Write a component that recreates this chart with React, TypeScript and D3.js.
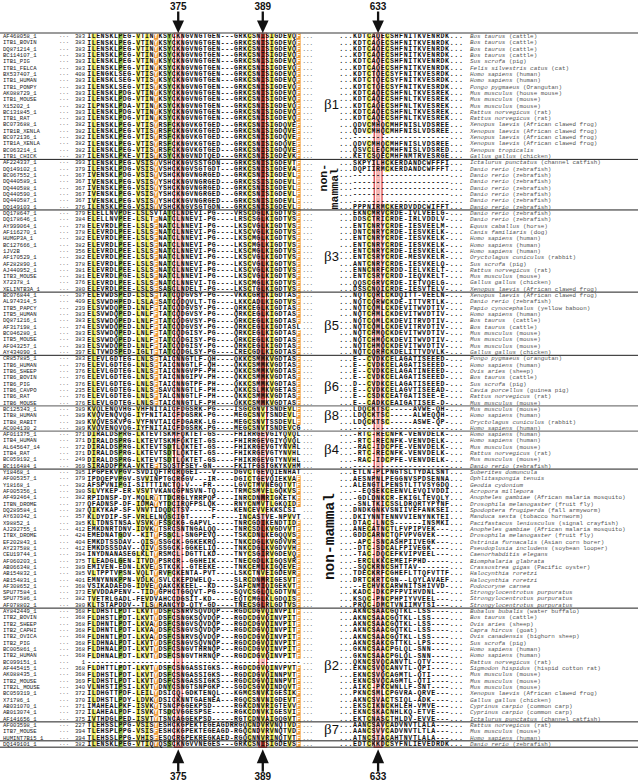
import React from 'react';
import * as d3 from 'd3';

const W = 638;
const H = 781;

const names = [
  'AF468058_1','ITB1_BOVIN','DQ871214_1','BC114107_1','ITB1_PIG','ITB1_FELCA','BX537407_1','ITB1_HUMAN','ITB1_PONPY','AK088729_1','ITB1_MOUSE','X15202_1','BC131845_1','ITB1_RAT','BC073688_1','ITB1B_XENLA','BC072136_1','ITB1A_XENLA','BC063214_1','ITB1_CHICK',
  'AF224337_1','DQ149102_1','BC067552_1','DQ440589_1','DQ440588_1','DQ440590_1','DQ440587_1','DQ149103_1',
  'DQ178647_1','DQ178646_1','AY999064_1','AF116270_1','HUMGP3A_1','BC127666_1','1JV2B','AF170529_1','AF282890_1','AJ440952_1','ITB3_MOUSE','X72378_1','XELINTB3A_1',
  'BC076844_1','AL974314_5','ITB5_PAPCY','ITB5_HUMAN','DQ871216_1','AF317198_1','BC046280_1','ITB5_MOUSE','AF043257_1','AY434090_1',
  'CR857885_1','ITB6_HUMAN','ITB6_SHEEP','ITB6_BOVIN','ITB6_PIG','ITB6_CAVPO','ITB6_RAT','ITB6_MOUSE',
  'BC125343_1','ITB8_HUMAN','ITB8_RABIT','AC004130_2',
  'AF011375_1','ITB4_HUMAN','AL645647_14','ITB4_RAT','BC059192_1','BC116484_1',
  'Y18468_1','AF005357_1','Y18168_1','AF005356_1','AF492464_1','ITBN_DROME','DQ289584_1','AY630342_1','X98852_1','AJ292755_1','ITBX_DROME','EF202843_1','AY237588_1','CEU19744_1','AF060203_1','AB066348_1','AB154832_1','AB154831_1','AF308652_1','SPU77584_1','SPU77586_1','AF078802_1',
  'AY842449_1','ITB2_BOVIN','ITB2_SHEEP','ITB2_CAPHI','ITB2_OVICA','ITB2_PIG','BC005861_1','ITB2_HUMAN','BC099151_1','AF445415_1','AK088435_1','ITB2_MOUSE','ITB2L_MOUSE','BC059319_1','X71786_1','AB031070_1','AB013074_1','AF141656_1',
  'AF003598_1','ITB7_MOUSE','HUMINT7B15_1',
  'DQ149101_1',
];

const startNums = [
  383,383,383,383,383,383,408,383,383,383,383,382,383,383,382,382,382,382,382,387,
  393,379,367,367,367,367,367,376,
  379,384,378,378,382,382,356,382,378,381,381,376,380,
  387,409,239,383,383,374,383,383,383,397,
  383,376,376,376,376,235,376,376,
  389,389,389,389,
  371,371,372,371,249,369,
  385,379,382,380,382,377,387,357,385,412,424,404,412,394,375,389,385,401,368,373,382,380,
  368,368,368,368,368,368,368,368,1,368,368,369,340,372,370,371,372,375,
  227,394,394,
  382,
];

const leftSeqs = [
  'ILENSKLPEG-VTINYKSYCKNGVNGTGEN---GRKCSNISIGDEVQF',
  'ILENSKLPEG-VTINYKSYCKNGVNGTGEN---GRKCSNISIGDEVQF',
  'ILENSKLPEG-VTINYKSYCKNGVNGTGEN---GRKCSNISIGDEVQF',
  'ILENSKLPEG-VTINYKSYCKNGVNGTGEN---GRKCSNISIGDEVQF',
  'ILENSKLPEG-VTINYKSYCKNGVNGTGEN---GRKCSNISIGDEVQF',
  'ILENSKLPEG-VTINYKSYCKNGVNGTGEN---GRKCSNISIGDEVQF',
  'ILENGKLSEG-VTISYKSYCKNGVNGTGEN---GRKCSNISIGDEVQF',
  'ILENSKLSEG-VTISYKSYCKNGVNGTGEN---GRKCSNISIGDEVQF',
  'ILENSKLSEG-VTISYKSYCKNGVNGTGEN---GRKCSNISIGDEVQF',
  'ILENSKLPDG-VTINYKSYCKNGVNGTGEN---GRKCSNISIGDEVQF',
  'ILENSKLPDG-VTINYKSYCKNGVNGTGEN---GRKCSNISIGDEVQF',
  'ILPNSKLPDA-VTINYKSYCKNGVNGTGEN---GRKCSNISIGDEVQF',
  'ILENSKLPDG-VTINYKSYCKNGVNGTGEN---GRKCSNISIGDEVQF',
  'ILENSKLPDG-VTINYKSYCKNGVNGTGEN---GRKCSNISIGDEVQF',
  'ILENSKLPEG-VTISYRSFCKNGVKGTGED---GRKCSNISIGDQVEF',
  'ILENSKLPEG-VTISYRSFCKNGVKGTGED---GRKCSNISIGDQVEF',
  'ILENSKLPEG-VTISYRSFCKNGVKGTGED---GRKCSNISIGDQVEF',
  'ILENSKLPEG-VTISYRSFCKNGVKGTGED---GRKCSNISIGDQVEF',
  'ILENSKLPEG-VTISYRSFCKNGVKGTGED---GRKCSNISIGDQVEF',
  'ILENSKLPKE-VTISYKSYCKNGVNDTQED---GRKCSNISIGDEVKF',
  'ILENSKLPEG-VSISYVSHCKNGVSSTGDN---GRKCSNISIGDEVTF',
  'ILENSKLPDG-VSISYVSHCKNGVSGTGDT---GRKCSNISIGDEVAF',
  'IVENSKLPDG-VSISYVSHCKNGVNGRGED---GRKCSNISIGDEVLF',
  'IVENSKLPEG-VSISYYSHCKNGVNGRGED---GRKCSSISIGDEVLF',
  'IVENSKLPEG-VSISYYSHCKNGVNGRGED---GRKCSNISIGDEVLF',
  'IVENSKLPEG-VSISYYSHCKNGVNGRGED---GRKCSNISIGDEVLF',
  'IVENSKLPEG-VSISYYSHCKNGVNGRGED---GRKCSNISIGDEVLF',
  'ILENSKLPEG-VSISYVSHCKNGVSGTGDN---GRKCSNISIGDEVLF',
  'ELELLNVPDE-LSLSVTATCLNDEVI-PG----VRSCDGLKIGDTVSF',
  'ELELLNVPEE-LSLTFNATCLNNEVI-PG----LRSCSGLKIGDTVSF',
  'ELEVRDLPEE-LSLSFNATCLNNEVI-PG----LKSCVGLKIGDTVSF',
  'ELEVRDLPEE-LSLSFNATCLNNEVI-PG----LKSCVGLKIGDTVSF',
  'ELEVRDLPEE-LSLSFNATCLNNEVI-PG----LKSCMGLKIGDTVSF',
  'ELEVRDLPEE-LSLSFNATCLNNEVI-PG----LKSCMGLKIGDTVSF',
  'ELEVRDLPEE-LSLSFNATCLNNEVI-PG----LKSCMGLKIGDTVSF',
  'ELEVRDLPEE-LSLSFNATCLNNEVI-PG----LKSCVGLKIGDTVSF',
  'ELEVRDLPEE-LSLSFNATCLNNEVI-PG----LKSCVGLKIGDTVSF',
  'ELEVRDLPEE-LSLSFNATCLNNEVI-PG----LKSCVGLKIGDTVSF',
  'ELEVRDLPGE-LSLSFNATCLNNEVI-PG----LKSCVGLKIGDTVSF',
  'ELEVRDLPEE-LSLSFNATCLNNEVI-TG----LKSCMGLKIGDTVSF',
  'ELEVRDLPEE-LSLSFSASCLNDELT-PG----LKSCTGLKIGDTVSF',
  'ELEVWDSPED-LSLSFTATCQDGVSY-PG----VKKCGRLKIGDTASF',
  'ELSVWDHPED-LSLAFSATCQDQVLT-TG----LKKCADLKIGDTVSF',
  'ELSVWDQPED-LNLFFTATCQDGVSY-PG----QRKCEGLKIGDTASF',
  'ELSVWDQPED-LNLFFTATCQDGVSY-PG----QRKCEGLKIGDTASF',
  'ELSVWDQPED-LNLFFTATCQDGVSY-PG----QRKCEGLKIGDTASF',
  'ELSVWDQPED-LNLFFTATCQDGVSY-PG----QRKCEGLKIGDTASL',
  'ELSVWDQPED-LNLFFTATCQDGISY-PG----QRKCEGLKIGDTASF',
  'ELSVWDQPED-LNLFFTATCQDGISY-PG----QRKCEGLKIGDTASF',
  'ELSVWDQPED-LNLFFTATCQDGISY-PG----QRKCEGLKIGDTASF',
  'ELTVWDSPED-IGLTFTATCQDGLSY-PG----LRECGDLKIGDTASF',
  'ELEVLGDTEG-LNLSFTAICNNGTLF-QH----QKKCSMMKVGDTASF',
  'ELEVLGDTEG-LNLSFTAICNNGTLF-QH----QKKCSMMKVGDTASF',
  'ELEVLGDTEG-LNLSFTAICNNGVPF-PH----QKKCSMMKVGDTASF',
  'ELEVLGDTEG-LNLSFTAICNNGIPV-PH----QKKCSMMKVGDTASF',
  'ELEVLGDTEG-LNLSFTAICNNGTPF-PH----QKKCSMMKVGDTASF',
  'ELEVLGDTEG-LNLSFSAVCNNGTLF-PH----QKKCSLMKVGETASF',
  'ELEVLGDTEG-LNLSFTALCNNGTLF-PH----QKKCSMMKVGDTASF',
  'ELEVLGDTEG-LNLSFTAICNNGTLF-PH----QKKCSMMKVGDTASF',
  'KVQLENQVHG-VHFNITAICFDGSRK-PG----ISGCGNVTSNDEVLF',
  'KVQVENQVQG-IYFNITAICFDGSRK-PG----MEGCSNVTSNDEVLF',
  'KVQVESKVPG-VYFNVTAICFDGARK-LG----MEGCSNVTSSDEVLF',
  'KVQVENQVQG-IYFNITAICFDGSRK-PG----MEGCSNVTSNDEVCG',
  'DIRALDSPRG-LKTEVTSKMFQKTET-GS----FHIRRGEVGIYQVQL',
  'DIRALDSPRG-LKTEVTSKMFQKTET-GS----FHIRRGEVGIYQVQL',
  'DIRALDSPRG-LKTEVTSDTLQKTET-GS----FHIKRGEVGTYNVHL',
  'DIRALDSPRG-LKTEVTSDTLQKTET-GS----FHIKRGEVGTYNVHL',
  'DIRALDSPRG-LKTEVTSDTLQKTET-GS----FHIKRGEVGTYNVHL',
  'SIRADDPPKA-VKTEFTSQSTFSEY-GN-----FKITFGSTGKYKVHM',
  'IPGPEKVPGV-SVDIQFTRCRQGEI---V----DGVCTGEVQIENHAT',
  'IPDQEPVPGV-SVVINPTGCRGGV---IR----DGICTGEVQIEKVAF',
  'AFSPVNIPGI-SITTTINCTQ-V---FR-----LGVCTMVNEGQTVTF',
  'SLVYKEP-ER-VSVTVKANCGPNSVN-TQ----TRMCSMVELGQKVSF',
  'RPIDNSP-DY-MQLRYTTDCRGLYRRPQP----INRCDNMRIGKETKF',
  'QFADNSP-DF-IDMAYYTDCIRQFPSLQK----RNYCNMVTLGKQIDF',
  'QIKYKAP-SF-VNVTIDQDCTSV-----F----KENCEVVEKKSLSI',
  'KLDYDIP-SF-VRLELNQSCIGT-----F-----INCASTVE-NPVVT',
  'KLTDNSTNSA-VSVKYFSSCKG-GAPVL-----TNRCGDIKENDTIDF',
  'EMKDNRTDNV-IDVKYTSRCSNTNGALQQ----TNRCSDLKVGDVVTF',
  'EMEDNATGDV--KITYFSSCL-SNGPEVQ----TSKCDNLKEGQQVSF',
  'EMKDTSSDAV--QISYSSGCK-GGKEKRQ----TNKCDGLKVGDVVRF',
  'EMKDSSSDAV--QIVYSSGCK-GGKELIQ----TNKCDGLKVGDVVHF',
  'INYDNANASEGLKLTYRSMCL-DGTTLKD----TNYCSGIRVGDEVQF',
  'TLEADGLGEN-ITVDYPSRCR--GGHEIK----TNECGDLKIGQSVRF',
  'EMIVEN-EDN-LKVEYSTKCK--GTEEKE----TNKCEMLKIGQEVEF',
  'VLTPPTVPSN-VQLTYRVFCKENTA-PVT----LSKCTNVEIGDEVRF',
  'EMNYNNKPPN-VDLKYSVLCKEPDWELQ-----SLRCDNMRIGESVTF',
  'VSIKADAEDG-IDVEYQAKCKKEEL--KD----SAFCNMIQIGEKVTF',
  'EVVDDAPENV--TIDYGPHCTGGQVT-PG----SQVCSGLQLGDTVNF',
  'TVETRLGADL-FEVDVAHCCDGSIT-KD-----EQTCMGLKLGDQISF',
  'KLTSTAPDDV--TLSYRANCYD-QTY-GD----TNECSGLRLGDTVSF',
  'FLDHSTLPDT-LKVTYDSFCSNRVSQVDQP---RGDCDGVQINVPITF',
  'FLDHSTLPDT-LKVTYDSFCSNGKSQVDQP---RGDCDGVQINVPITF',
  'FLDHNTLPDT-LKVAYDSFCSNGVSQVDQP---RGDCDGVQINVPITF',
  'FLDHNTLPDT-LKVAYDSFCSNGVSQVDQP---RGDCDGVQINVPITF',
  'FLDHNTLPDT-LKVAYDSFCSNRVSQVDQP---RGDCDGVQINVPITF',
  'FLDHNALPDT-LKVTYDSFCSNGVSQVNQP---RGDCDGVQINVPITF',
  'FLDHNALPDT-LKVTYDSFCSNGVTHRNQP---RGDCDGVQINVPITF',
  'FLDHNALPDT-LKVTYDSFCSNGVTHRNQP---RGDCDGVQINVPITF',
  '------------------------------------------------',
  'FLDHTTLPDT-LKVTYDSFCSNGASSIGKS---RGDCDGVQINVPVTF',
  'FLDHSTLPDT-LKVTYDSFCSNGASSIGKS---RGDCDGVQINNPVTF',
  'FLDHSTLPDT-LKVTYDSFCSNGASSIGKS---RGDCDGVQINNPVTF',
  'VLNHSTIPSI-LKVTYDNYCSNGTSNPGKP---SGDCSGVQINDQVTF',
  'ILDHGTTPDF-LEILYDSICQ-GDKTENQL---KGMCSNVKIGESIKF',
  'ILDHSTLPDY-LDVKYDSICKNNTGAENEA---RGQCSNVNIGDEVTF',
  'IMAHEALPKF-ISVKYTSNCPGGEKPSD-----RGKCDNVRIGTEVVF',
  'ILAHEALPDF-ISVKYTSDCVGGESPSE-----RGKCDNVKIGESVIF',
  'IVTHDGLPED-ISVTYTSNCAGGEKPSD-----RGTCDNVAIGQGVTF',
  'TLEHSSLPPG-VSISYESHCKGPEKTEGEAGDRRGQCNDVRVNQTVDF',
  'TLEHSPLPPG-VSISFESHCKGPEKTEGEAGD-RGQCNDVRVNQTVDF',
  'TLEHSSLPPG-VHISFESQCRGPEKREGKAED-RGQCNNVRINQTVTF',
  'ILENSKLPEG-VTIQYQSSCKNGVVNEGES---GRKCSNISIGDEVSF',
];

const rightSeqs = [
  'KDTCAQECSHFNITKVENRDK','KDTCAQECSHFNITKVENRDK','KDTCAQECSHFNITKVENRDK','KDTCAQECSHFNITKVENRDK','KDTCAQECSHFNITKVENRDK','KDTCAQECSHFNITKVENRDK',
  'KDTCTQECSYFNITKVESRDK','KDTCTQECSYFNITKVESRDK','KDTCTQECSYFNITKVESRDK',
  'KDTCAQECSHFNLTKVESREK','KDTCAQECSHFNLTKVESREK','KDTCAQECSHFNLTKVESREK','KDTCAQECSHFNLTKVESREK','KDTCAQECSHFNLTKVESREK',
  'QDVCMHQCMHFNISLVDSREE','QDVCMHQCMHFNISLVDSREE','---------------------','QDVCMHQCMHFNISLVDSREE','QSVCLEQCMHFNISLVDSRED','KETCSQECMHFNMTRVESRGE',
  'SKPYILHCKERDANDCWFFFI','DQPIIRMCKERDANDCWFFFT','---------------------','---------------------','---------------------','---------------------','---------------------','PPPNIRMCKERDVDDCWIFFT',
  'EKNCMRVCRDE-IVLVEELG-','DDSCTRICRDE-IRLVDDLV-','ENTCNRYCRDE-IESVEELM-','DNTCNRYCRDE-IESVKELK-','ENTCNRYCRDE-IESVKELK-','ENTCNRYCRDE-IESVKELK-','ENTCNRYCRDE-IESVKELK-','ENTCSRYCRDE-MESVKELR-','ANTCNRYCRDE-IESVKELQ-','ENNCNRFCRDD-IELVKELT-','ENTCSRYCRDD-IEQVKELT-','QQSCGRVCRDE-IETVQELG-','DSSCNQICRDE-IESVTELV-',
  'NQTCQRLCKDQITT-VEELN-','NQTCQRWCKDE-ITTVRTLK-','NQTCQMLCKDEVITWVDTIV-','NQTCHMLCKDEVITWVDTIV-','NQTCQMLCKDEVITRVDTIV-','NQTCQMLCKDEVITRVDTIV-','NQTCHMQCKDEVITWVDTIV-','NQTCHMQCKDEVITWVDTIV-','NQTCHMQCKDEVITWVDTIV-','NQTCQRHCKDELITTVDVLK-',
  'E--CVDKCELAGATISEEED-','E--CVDKCELAGATISEEED-','E--CVDKCELAGATINEEED-','E--CVDKCELAGATISEEED-','D--CVDKCELAGATISEEED-','E--CVDKCELAGVTISEEAD-','E--CSDKCEATGATISEE-E-','E--CADKCEAIGATISEE-D-',
  'LDQCKTSC-----AVWE-QH-','LDQCKTSC-----ALWEQQH-','LDQCKTSC-----ASWE-QP-','---------------------',
  '-RTC-RECNFK-VENVDELK-','-RTC-RECNFK-VENVDELK-','-RAC-IDCPFE-VENVDELK-','-RTC-RECNFK-VENVDELK-','-RAC-IDCPFE-VENVDELK-','---------------------',
  'ETLN-PLPNGTSLTYDALSNT','AESNPNLPEGGNVSPDSENNA','ALENGTLPENSTLTTVSYGDQ','--EQSEKCEENVLEVQIVDDI','-GDLDNKCR-EKIGLTEVQLY','-SNLTKICSSLDRQRTYPYNF','DNDKGNKVSNIIVEFANKSEI','DKIYNNTENNVVIENYNKTEI','DTAC-LNCS------INSMKI','ANECATNCTLFVPIPVEK---','GDDCARNCTQFVPVGVEK---','-APC-SNCASHPIIVEGK---','-DTC-SDCALFPIVEGK----','-TAC-DQCEFKVIPVEEL---','-ERCLKKCEMEIFPHD-----','-SQCKRNCSHTTAV-------','TDECKRFCGHEFLTTQFVTTF','DRTCKRTCGN--LQYLAVAEF','--ECHVKCARWNITSHIVVD-','KADC-DKCPFPVIHVDNL---','KSQC-PNCPHPIYVVEEL---','PRQC-DMCTVNIIMVTSI---',
  'AKNCSAACGQTKL-LSS----','AKNCSAACGQTKL-LSS----','AKNCSAACGQTKL-LSS----','AKNCSAACGQTKL-LSS----','AKNCSAACGQTKL-LSS----','AKNCSAKCGTTKL-LPS----','GKNCSAACPGLQL-SNN----','GKNCSAACPGLQL-SNN----','QKNCSVQCANVTL-QTV----','EKNCSVQCANVTL-QPI----','EKNCSVQCAGMTL-QTI----','EKNCSVQCAGMTL-QTI----','AIKC-PKCWNLLF-SNT----','PKNCSMLCPGVRA-QRVE---','AKNCSVACTSIQL-ADK----','EKSCIKNCKHLEH-VMVE---','EKNCSKACNHLKQ-ETVE---','EKTCNASCTHLDV-EVVE---',
  'AANCSAVCADVNVTLALA---','AANCSVVCADVNVTLTLA---','ATNCSTACAHTNVTLALA---',
  'EDTCKKDCSYFNLIEVEDRDK',
];

const species = [
  'Bos taurus (cattle)','Bos taurus (cattle)','Bos taurus (cattle)','Bos taurus (cattle)','Sus scrofa (pig)','Felis silvestris catus (cat)','Homo sapiens (human)','Homo sapiens (human)','Pongo pygmaeus (Orangutan)','Mus musculus (house mouse)','Mus musculus (mouse)','Mus musculus (mouse)','Rattus norvegicus (rat)','Rattus norvegicus (rat)','Xenopus laevis (African clawed frog)','Xenopus laevis (African clawed frog)','Xenopus laevis (African clawed frog)','Xenopus laevis (African clawed frog)','Xenopus tropicalis','Gallus gallus (chicken)',
  'Ictalurus punctatus (channel catfish)','Danio rerio (zebrafish)','Danio rerio (zebrafish)','Danio rerio (zebrafish)','Danio rerio (zebrafish)','Danio rerio (zebrafish)','Danio rerio (zebrafish)','Danio rerio (zebrafish)',
  'Danio rerio (zebrafish)','Danio rerio (zebrafish)','Equus caballus (horse)','Canis familiaris (dog)','Homo sapiens (human)','Homo sapiens (human)','Homo sapiens (human)','Oryctolagus cuniculus (rabbit)','Sus scrofa (pig)','Rattus norvegicus (rat)','Mus musculus (mouse)','Gallus gallus (chicken)','Xenopus laevis (African clawed frog)',
  'Xenopus laevis (African clawed frog)','Danio rerio (zebrafish)','Papio cynocephalus (yellow baboon)','Homo sapiens (human)','Bos taurus  (cattle)','Bos taurus (cattle)','Mus musculus (mouse)','Mus musculus (mouse)','Mus musculus (mouse)','Gallus gallus (chicken)',
  'Pongo pygmaeus (orangutan)','Homo sapiens (human)','Ovis aries (sheep)','Bos taurus (cattle)','Sus scrofa (pig)','Cavia porcellus (guinea pig)','Rattus norvegicus (rat)','Mus musculus (mouse)',
  'Mus musculus (mouse)','Homo sapiens (human)','Oryctolagus cuniculus (rabbit)','Homo sapiens (human)',
  'Homo sapiens (human)','Homo sapiens (human)','Mus musculus (mouse)','Rattus norvegicus (rat)','Mus musculus (mouse)','Danio rerio (zebrafish)',
  'Suberites domuncula','Ophlitaspongia tenuis','Geodia cydonium','Acropora millepora','Anopheles gambiae (African malaria mosquito)','Drosophila melanogaster (fruit fly)','Spodoptera frugiperda (fall armyworm)','Manduca sexta (tobacco hornworm)','Pacifastacus leniusculus (signal crayfish)','Anopheles gambiae (African malaria mosquito)','Drosophila melanogaster (fruit fly)','Ostrinia furnacalis (Asian corn borer)','Pseudoplusia includens (soybean looper)','Caenorhabditis elegans','Biomphalaria glabrata','Crassostrea gigas (Pacific oyster)','Halocynthia roretzi','Halocynthia roretzi','Podocoryne carnea','Strongylocentrotus purpuratus','Strongylocentrotus purpuratus','Strongylocentrotus purpuratus',
  'Bubalus bubalis (water buffalo)','Bos taurus (cattle)','Ovis aries (sheep)','Capra hircus (goat)','Ovis canadensis (bighorn sheep)','Sus scrofa (pig)','Homo sapiens (human)','Homo sapiens (human)','Rattus norvegicus (rat)','Sigmodon hispidus (hispid cotton rat)','Mus musculus (mouse)','Mus musculus (mouse)','Mus musculus (mouse)','Xenopus laevis (African clawed frog)','Gallus gallus (chicken)','Cyprinus carpio (common carp)','Cyprinus carpio (common carp)','Ictalurus punctatus (channel catfish)',
  'Rattus norvegicus (rat)','Mus musculus (mouse)','Homo sapiens (human)',
  'Danio rerio (zebrafish)',
];

const groupNames = ['β1', 'non-mammal', 'β3', 'β5', 'β6', 'β8', 'β4', 'non-mammal', 'β2', 'β7', ''];
const groupSizes = [20, 8, 13, 10, 8, 4, 6, 22, 18, 3, 1];
const siteLabels = ['375', '389', '633'];
const siteCols = [20, 39, 8];
const siteBlocks = ['L', 'L', 'R'];

// layout constants
const TOP = 33;
const ROWH = 6.32;
const LX0 = 87;
const LCW = 4.45;
const RX0 = 339;
const RCW = 4.6;
const MIDX = 302.5;
const MIDCW = 3.5;
const SEQ_FS = 6.6;
const labelDy = [13, 0, 10, 6, 10, 1.5, 4, 0, 5, 3, 0];
const grayAfter = new Set([4, 5]);

const YEL = '#efeb5a';
const GRN = '#8fbf4a';
const ORG = '#f19a3a';
const DRED = '#b5372c';
const PINK = '#f6b6b4';
const RED = '#d8262a';

function leftFill(col: number, ch: string): string | null {
  if (col === 20) return PINK;
  if (col === 39) {
    if ('ILMF'.includes(ch)) return DRED;
    if (ch === 'V') return YEL;
    return PINK;
  }
  if (ch === '-') return null;
  if (col === 1 && 'LIV'.includes(ch)) return YEL;
  if (col === 7 && 'PG'.includes(ch)) return GRN;
  if (col === 11 && 'VLI'.includes(ch)) return YEL;
  if (col === 13 && 'ILVM'.includes(ch)) return YEL;
  if (col === 15 && 'YFH'.includes(ch)) return ORG;
  if (col === 18 && 'YTSFD'.includes(ch)) return GRN;
  if (col === 36 && ch === 'C') return YEL;
  if (col === 41 && 'ILV'.includes(ch)) return YEL;
  if (col === 45 && 'VIL'.includes(ch)) return YEL;
  if (col === 47 && ch === 'F') return ORG;
  return null;
}

function rightFill(idx: number, ch: string): string | null {
  if (idx === 8) return PINK;
  if ((idx === 6 || idx === 10) && ch === 'C') return YEL;
  return null;
}

function splitSpecies(s: string): [string, string] {
  const m = s.match(/^(.*?)(\s*\(.*\))?$/);
  if (!m) return [s, ''];
  return [m[1], m[2] || ''];
}

type Seg = { fill: string; xs: number[]; s: string; fw: string; fs: number };

export default function App() {
  const N = names.length;
  const y = d3.scaleLinear().domain([0, N]).range([TOP, TOP + N * ROWH]);
  const xl = d3.scaleLinear().domain([0, 48]).range([LX0, LX0 + 48 * LCW]);
  const xr = d3.scaleLinear().domain([0, 27]).range([RX0, RX0 + 27 * RCW]);
  const bottom = y(N);

  const starts: number[] = [];
  let acc = 0;
  groupSizes.forEach((s) => { starts.push(acc); acc += s; });

  const cells: any[] = [];
  const texts: any[] = [];

  names.forEach((nm, i) => {
    const top = y(i);
    const base = top + 5.2;
    const ls = leftSeqs[i];
    const rs = '...' + rightSeqs[i] + '...';
    const segs: Seg[] = [];
    const push = (fill: string, x: number, ch: string, fw = 'bold', fs = SEQ_FS) => {
      const last = segs[segs.length - 1];
      if (last && last.fill === fill && last.fw === fw && last.fs === fs) { last.xs.push(x); last.s += ch; }
      else segs.push({ fill, xs: [x], s: ch, fw, fs });
    };
    for (let c = 0; c < ls.length; c++) {
      const ch = ls[c];
      const f = leftFill(c, ch);
      if (f) cells.push(<rect key={`l${i}-${c}`} x={xl(c)} y={top} width={LCW + 0.05} height={ROWH + 0.05} fill={f} />);
      push(f === ORG ? '#fff' : '#111', xl(c + 0.5), ch);
    }
    for (let k = 0; k < 3; k++) push('#333', MIDX + (k + 0.5) * MIDCW, '.', 'normal', 5.8);
    for (let c = 0; c < rs.length; c++) {
      const ch = rs[c];
      const f = rightFill(c, ch);
      if (f) cells.push(<rect key={`r${i}-${c}`} x={xr(c)} y={top} width={RCW + 0.05} height={ROWH + 0.05} fill={f} />);
      push('#111', xr(c + 0.5), ch);
    }
    texts.push(
      <text key={`s${i}`} y={base} textAnchor="middle" fontFamily="'Liberation Mono', monospace">
        {segs.map((sg, k) => (
          <tspan key={k} x={sg.xs.map((v) => v.toFixed(2)).join(' ')} fill={sg.fill}
            fontWeight={sg.fw} fontSize={sg.fs}>{sg.s}</tspan>
        ))}
      </text>
    );
    texts.push(
      <text key={`n${i}`} y={top + 5.0} fontFamily="'Liberation Mono', monospace" fontSize={5.6} fill="#222">
        <tspan x={3}>{nm}</tspan>
        <tspan x={59} fill="#555">···</tspan>
        <tspan x={85} textAnchor="end">{String(startNums[i])}</tspan>
      </text>
    );
    const [sp, common] = splitSpecies(species[i]);
    texts.push(
      <text key={`sp${i}`} x={470} y={top + 5.0} fontFamily="'Liberation Mono', monospace" fontSize={5.9} fill="#555" xmlSpace="preserve">
        <tspan fontStyle="italic">{sp}</tspan>
        <tspan>{common}</tspan>
      </text>
    );
  });

  const sepLines = starts.slice(1).map((s, gi) => (
    <line key={`sep${gi}`} x1={0} x2={W} y1={y(s)} y2={y(s)}
      stroke={grayAfter.has(gi) ? '#7a7a7a' : '#1e1e1e'} strokeWidth={grayAfter.has(gi) ? 1.3 : 1} />
  ));

  const siteX = siteCols.map((c, k) => (siteBlocks[k] === 'L' ? xl(c + 0.5) : xr(c + 0.5)));
  const siteLeft = siteCols.map((c, k) => (siteBlocks[k] === 'L' ? xl(c) : xr(c)));
  const siteW = siteBlocks.map((b) => (b === 'L' ? LCW : RCW));

  const groupLabels = groupNames.map((g, gi) => {
    if (!g) return null;
    const cy = (y(starts[gi]) + y(starts[gi] + groupSizes[gi])) / 2;
    if (g === 'non-mammal') {
      if (groupSizes[gi] < 12) {
        return (
          <g key={`gl${gi}`} fontFamily="'Liberation Mono', monospace" fontWeight="bold" fill="#111">
            <text transform={`translate(326.5,${cy - 7}) rotate(-90)`} textAnchor="middle" fontSize={11.5}>non-</text>
            <text transform={`translate(337.5,${cy + 4}) rotate(-90)`} textAnchor="middle" fontSize={11.5}>mammal</text>
          </g>
        );
      }
      return (
        <text key={`gl${gi}`} transform={`translate(334,${cy - 2}) rotate(-90)`} textAnchor="middle"
          fontFamily="'Liberation Mono', monospace" fontWeight="bold" fontSize={14.5} fill="#111">non-mammal</text>
      );
    }
    return (
      <text key={`gl${gi}`} x={324} y={cy + labelDy[gi]} fill="#111">
        <tspan fontFamily="'Liberation Serif', serif" fontSize={15}>{g[0]}</tspan>
        <tspan fontFamily="'Liberation Sans', sans-serif" fontSize={13}>{g.slice(1)}</tspan>
      </text>
    );
  });

  return (
    <svg width={W} height={H} viewBox={`0 0 ${W} ${H}`} style={{ position: 'absolute', left: 0, top: 0, background: '#fff' }}>
      <rect x={0} y={0} width={W} height={H} fill="#fff" />
      <g>{cells}</g>
      {siteX.map((sx, k) => (
        <rect key={`box${k}`} x={siteLeft[k] - 1.6} y={TOP} width={siteW[k] + 3.2} height={bottom - TOP}
          fill="none" stroke={RED} strokeWidth={1.1} />
      ))}
      <g>{texts}</g>
      <line x1={0} x2={W} y1={TOP} y2={TOP} stroke="#7a7a7a" strokeWidth={1.5} />
      {sepLines}
      <line x1={0} x2={W} y1={bottom} y2={bottom} stroke="#1e1e1e" strokeWidth={1} />
      {groupLabels}
      {siteX.map((sx, k) => (
        <g key={`arr${k}`} fill="#111">
          <text x={sx} y={9.8} textAnchor="middle" fontFamily="'Liberation Sans', Arial, sans-serif" fontWeight="bold" fontSize={10}>{siteLabels[k]}</text>
          <rect x={sx - 1.15} y={11.5} width={2.3} height={10} />
          <path d={`M${sx - 5.8},20.5 L${sx + 5.8},20.5 L${sx},${TOP} Z`} />
          <path d={`M${sx},${bottom + 2} L${sx + 6},${bottom + 16} L${sx - 6},${bottom + 16} Z`} />
          <rect x={sx - 1.15} y={bottom + 15} width={2.3} height={9.5} />
          <text x={sx} y={780.3} textAnchor="middle" fontFamily="'Liberation Sans', Arial, sans-serif" fontWeight="bold" fontSize={10}>{siteLabels[k]}</text>
        </g>
      ))}
    </svg>
  );
}
